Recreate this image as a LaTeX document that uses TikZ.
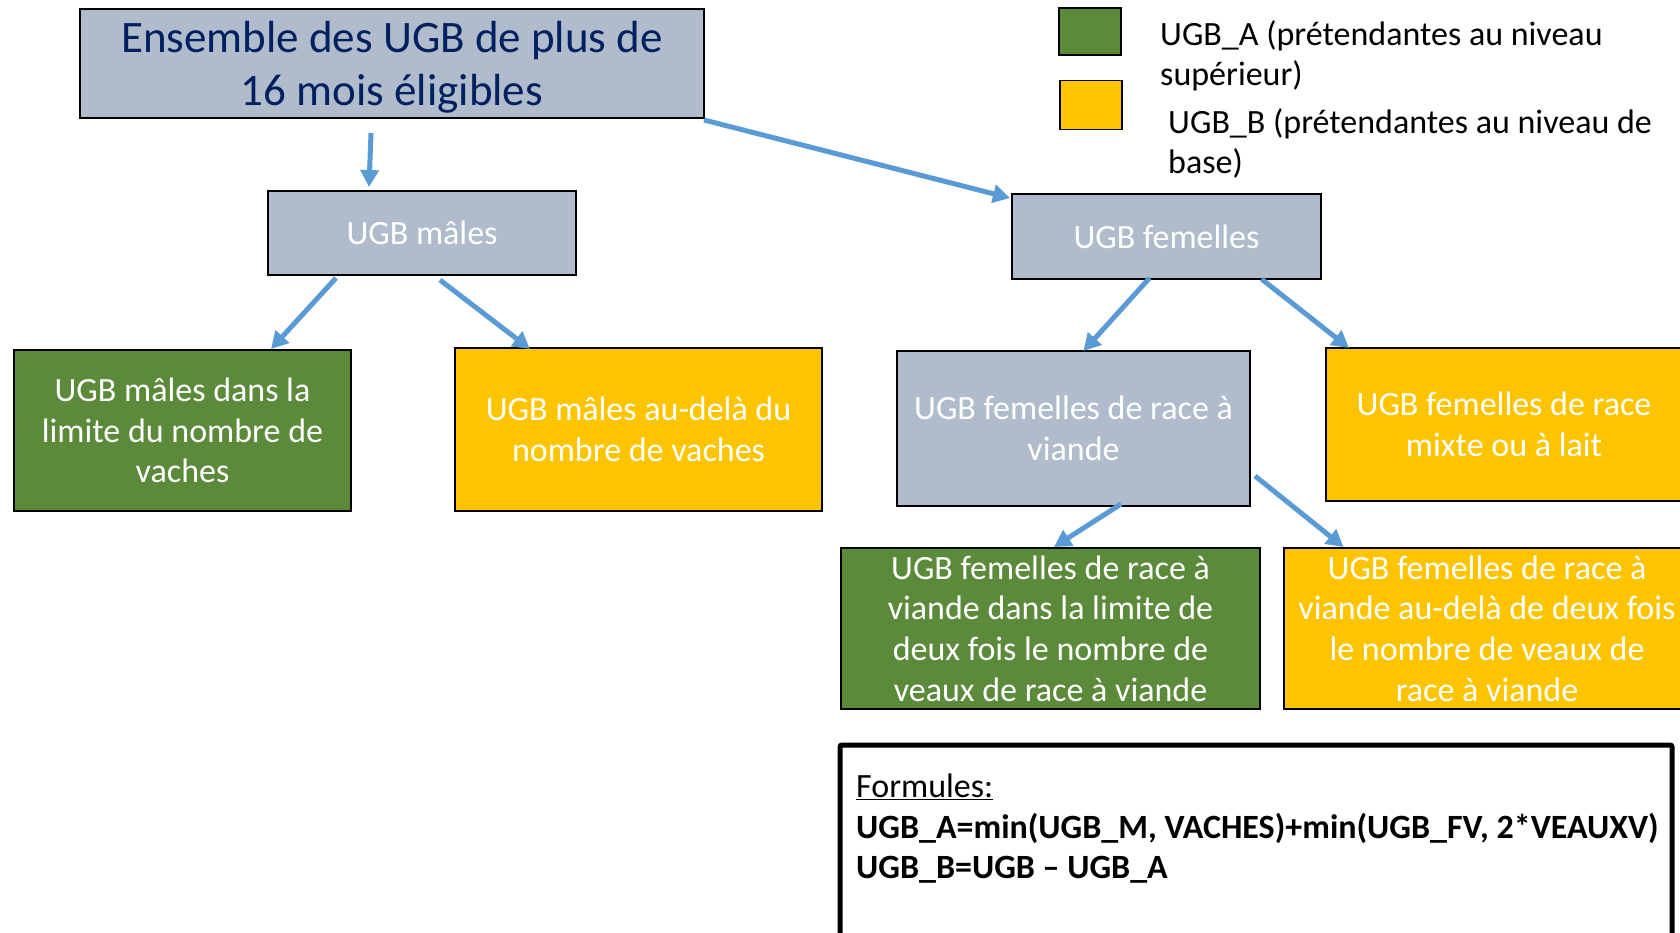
\documentclass[tikz,border=0pt]{standalone}
\usepackage{fontspec}
\setmainfont{Carlito}
\usetikzlibrary{arrows.meta}
\definecolor{boxgray}{HTML}{B0BCCC}
\definecolor{boxgreen}{HTML}{5B8A3A}
\definecolor{boxyellow}{HTML}{FFC400}
\definecolor{navy}{HTML}{002060}
\definecolor{arrowblue}{HTML}{5B9BD5}
\begin{document}
\begin{tikzpicture}[x=1pt,y=-1pt,
  box/.style={draw=black, line width=1.8pt, outer sep=0pt, inner sep=0pt, align=center, text=white, font=\fontsize{34}{40.7}\selectfont},
  graybox/.style={box, fill=boxgray},
  greenbox/.style={box, fill=boxgreen},
  yellowbox/.style={box, fill=boxyellow},
  legtext/.style={align=left, inner sep=0pt, text=black, font=\fontsize{34}{40.5}\selectfont},
  arr/.style={draw=arrowblue, line width=5pt, -{Triangle[length=17pt,width=18pt]}}
]
\useasboundingbox (0,0) rectangle (1680,932);
\fill[white] (0,0) rectangle (1680,932);

% main boxes
\node[graybox, text=navy, font=\fontsize{45}{53.5}\selectfont, text depth=0pt, minimum width=624pt, minimum height=109pt] (top) at (392,63.5) {Ensemble des UGB de plus de\\16 mois éligibles};
\node[graybox, minimum width=308pt, minimum height=84pt] (males) at (422,233) {UGB mâles};
\node[graybox, minimum width=309pt, minimum height=85pt] (fem) at (1166.5,236.5) {UGB femelles};
\node[greenbox, minimum width=337pt, minimum height=161pt] (gA) at (182.5,430.5) {UGB mâles dans la\\limite du nombre de\\vaches};
\node[yellowbox, minimum width=367pt, minimum height=163pt] (yM) at (638.5,429.5) {UGB mâles au-delà du\\nombre de vaches};
\node[graybox, minimum width=353pt, minimum height=155pt] (viande) at (1073.5,428.5) {UGB femelles de race à\\viande};
\node[yellowbox, minimum width=356pt, minimum height=153pt] (mixte) at (1504,424.5) {UGB femelles de race\\mixte ou à lait};
\node[greenbox, minimum width=419pt, minimum height=161pt] (gV) at (1050.5,628.5) {UGB femelles de race à\\viande dans la limite de\\deux fois le nombre de\\veaux de race à viande};
\node[yellowbox, minimum width=406pt, minimum height=161pt] (yV) at (1487,628.5) {UGB femelles de race à\\viande au-delà de deux fois\\le nombre de veaux de\\race à viande};

% legend
\node[draw=black, line width=1.8pt, fill=boxgreen, outer sep=0pt, minimum width=62pt, minimum height=47pt] (legA) at (1090,31.5) {};
\node[draw=black, line width=1.8pt, fill=boxyellow, outer sep=0pt, minimum width=62pt, minimum height=49pt] (legB) at (1091,105) {};
\node[legtext, anchor=base west] (legAt) at (1160,85.5) {UGB\_A (prétendantes au niveau\\supérieur)};
\node[legtext, anchor=base west] (legBt) at (1168,173.5) {UGB\_B (prétendantes au niveau de\\base)};

% formula box
\node[draw=black, line width=5pt, rounded corners=2pt, outer sep=0pt, minimum width=832pt, minimum height=220pt] (formula) at (1256,855) {};
\node[legtext, anchor=base west] (ftext) at (856,878.5) {\underline{Formules:}\\\textbf{UGB\_A=min(UGB\_M, VACHES)+min(UGB\_FV, 2*VEAUXV)}\\\textbf{UGB\_B=UGB – UGB\_A}};

% arrows
\draw[arr] ([shift={(-21,15)}]top.south) -- ([shift={(-53,-4)}]males.north);
\draw[arr] ([shift={(0,2)}]top.south east) -- ([shift={(-2,4)}]fem.north west);
\draw[arr] ([shift={(-86,3)}]males.south) -- ([shift={(88.5,-1)}]gA.north);
\draw[arr] ([shift={(18,5)}]males.south) -- ([shift={(-108.5,1)}]yM.north);
\draw[arr] ([shift={(-17,-1)}]fem.south) -- ([shift={(10,0)}]viande.north);
\draw[arr] ([shift={(95,0)}]fem.south) -- ([shift={(-155,0)}]mixte.north);
\draw[arr] ([shift={(47.5,-2)}]viande.south) -- ([shift={(3.5,-1)}]gV.north);
\draw[arr] ([shift={(5,-30)}]viande.south east) -- ([shift={(-143.5,-1)}]yV.north);
\end{tikzpicture}
\end{document}
